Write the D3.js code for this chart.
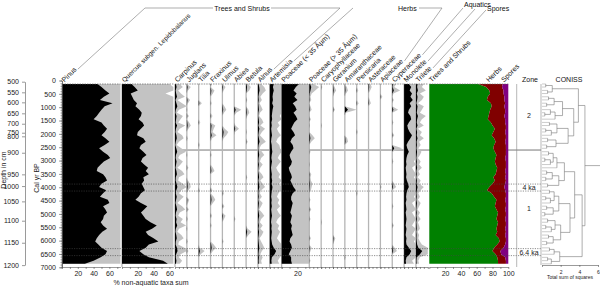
<!doctype html>
<html>
<head>
<script src="https://d3js.org/d3.v7.min.js"></script>
<style>
  body { margin: 0; background: #fff; }
  svg { font-family: "Liberation Sans", Arial, sans-serif; }
</style>
</head>
<body>
<script>
// sample ages (cal yr BP)
let ages = [130, 245, 372, 488, 610, 728, 851, 968, 1092, 1207,
  1333, 1449, 1571, 1688, 1812, 1929, 2052, 2168, 2291, 2418,
  2541, 2668, 2791, 2908, 3032, 3149, 3271, 3388, 3512, 3628,
  3751, 3872, 3990, 4112, 4229, 4352, 4468, 4591, 4709, 4832,
  4948, 5071, 5188, 5312, 5429, 5551, 5668, 5792, 5909, 6032,
  6148, 6271, 6389, 6512, 6628, 6751, 6870];

// depth axis (age-depth model)
let depthTicks = [500, 550, 600, 650, 700, 750, 800, 900, 950, 1000, 1050, 1100, 1150, 1200];
let depthAges = [45, 443, 818, 1230, 1620, 1957, 2092, 2707, 3517, 3956, 4530, 5254, 6080, 6918];

// percentages
let pinus = [45, 50, 55, 60, 53, 48, 64, 54, 50, 47,
  44, 40, 50, 53, 57, 54, 50, 55, 60, 54,
  47, 52, 58, 61, 53, 49, 45, 44, 52, 55,
  57, 50, 47, 56, 52, 48, 58, 60, 52, 55,
  57, 53, 52, 49, 52, 57, 51, 47, 44, 42,
  46, 50, 57, 55, 49, 40, 29];
let quercus = [12, 16, 20, 11, 13, 15, 19, 17, 22, 25,
  24, 21, 26, 28, 24, 20, 19, 27, 30, 24,
  22, 27, 31, 26, 24, 28, 33, 30, 34, 27,
  28, 25, 27, 29, 24, 21, 17, 24, 32, 28,
  24, 27, 30, 36, 44, 38, 30, 33, 40, 46,
  34, 30, 22, 27, 34, 52, 58];
let carpinus = [1.2, 2, 0.8, 1.5, 2.5, 0.6, 1.8, 3, 1, 0.5,
  2, 1.4, 0.8, 2.6, 1.2, 0.6, 1.8, 2.2, 1, 0.4,
  1.6, 2.8, 1.2, 0.8, 2, 1.4, 0.6, 1.8, 2.4, 1,
  0.8, 2, 3, 1.6, 1, 2.2, 1.4, 0.6, 1.8, 2.6,
  1.2, 0.8, 2, 1.4, 2.8, 1, 0.6, 1.6, 2.2, 1,
  0.8, 2.4, 3.2, 1.4, 1, 1.8, 1.2];
let juglans = [0, 1, 0.3, 0, 0, 0.8, 0.3, 0, 0.2, 0,
  0.5, 0, 0.6, 1, 0.4, 0, 0, 0.3, 0, 0,
  0, 0, 0.2, 0, 0, 0, 0.4, 0, 0, 0,
  0.3, 0.8, 1, 0.4, 0, 0, 0.6, 0.3, 0, 0.5,
  0, 0, 0.3, 0, 0, 0.2, 0, 0, 0, 0.3,
  0, 0, 0.4, 0, 0, 0, 0];
let tilia = [0, 0, 0, 0, 0, 0, 0.8, 0, 0, 0,
  0, 0, 0.4, 0, 0, 0, 0, 0, 0, 0.3,
  0, 0, 0, 0, 0, 0, 0, 0, 0, 0,
  0, 0, 0, 0.3, 0, 0, 0, 0, 0, 0,
  0, 0, 0, 0, 0, 0, 0, 0, 0, 0,
  0, 0.3, 1.5, 0.5, 0, 0, 0];
let fraxinus = [0.4, 0, 1, 0.6, 0, 0, 0.3, 0, 0, 0,
  0.5, 0, 0, 1.2, 0.8, 0.5, 1.5, 0.4, 0, 0,
  0, 0, 0.3, 0, 0, 0, 0.6, 1, 0, 0,
  0, 0, 0, 0.5, 0, 0.8, 1.2, 0.6, 0, 0,
  0, 0.4, 0, 0, 0.3, 0, 0, 0, 0, 0,
  0.8, 1.4, 0.6, 0, 0, 0, 0];
let ulmus = [0, 0.8, 0.3, 0, 0, 0, 0, 0.5, 1, 0.4,
  0, 0, 0, 0, 0.6, 1.5, 1, 0.3, 0, 0,
  0, 0, 0, 0, 0, 0, 0, 0, 0, 0,
  0, 0, 0, 0, 0.4, 0, 0, 0, 0.5, 0,
  0, 0.8, 0.4, 0, 0, 0, 0, 0, 0, 0.3,
  0, 0, 0, 0, 0, 0, 0];
let abies = [0, 0, 0, 0, 0, 0, 0, 0, 1.8, 0.5,
  0, 0, 0, 0.3, 1.2, 0.2, 0, 0, 0, 0,
  0, 0, 0, 0, 0, 0, 0, 0, 0, 0,
  0, 0, 0, 0, 0, 0, 0, 0, 0, 0,
  0, 0, 0.3, 0, 0, 0, 0, 0, 0, 0,
  0, 0, 0, 0, 0, 0, 0];
let betula = [0.5, 1.2, 0.8, 0, 0, 0.3, 0, 0, 0.6, 0.8,
  0.3, 0, 0, 0, 0, 0.2, 0, 0, 0.4, 0,
  0, 0, 0, 0, 0, 0, 0, 0, 0, 0.3,
  0, 0, 0, 0, 0, 0, 0, 0, 0, 0,
  0, 0, 0, 0, 0, 0.4, 1.4, 0.6, 0, 0,
  0, 0, 0, 0, 0, 0, 0];
let alnus = [0.8, 1.6, 2, 1.2, 0.6, 1, 0.4, 0.8, 1.2, 0.5,
  0.3, 1, 1.4, 0.6, 1.8, 1, 0.5, 1.2, 2, 0.8,
  0.4, 1, 1.6, 0.8, 0.5, 1.2, 0.6, 0.3, 1, 1.4,
  0.6, 1.2, 1.8, 0.8, 0.5, 1, 0.4, 1.2, 0.8, 0.3,
  1, 1.6, 0.8, 0.5, 1.2, 0.6, 1.4, 1, 0.4, 0.8,
  1.2, 1.6, 1, 0.6, 1.2, 0.8, 1];
let artemisia = [5, 4, 5, 4, 3.5, 4, 3, 4.5, 3.5, 3,
  2.5, 3, 2, 2.5, 1.8, 2.2, 2.8, 2, 1.6, 2.4,
  2.6, 3.2, 2.4, 2, 2.8, 2.2, 1.6, 2, 2.6, 2.2,
  3, 2.4, 3.4, 2.8, 2.2, 1.8, 2.4, 2, 2.6, 1.8,
  2.2, 2.8, 2, 1.6, 2.4, 2, 2.6, 2.2, 1.8, 2.4,
  3, 5, 8, 6, 2.6, 2, 2.4];
let poaceaeSmall = [22, 18, 15, 19, 16, 20, 14, 17, 19, 15,
  18, 20, 16, 14, 12, 15, 17, 13, 11, 14,
  15, 12, 10, 11, 13, 12, 9, 10, 12, 13,
  11, 13, 15, 18, 14, 12, 12, 14, 13, 12,
  11, 13, 12, 11, 13, 12, 13, 14, 11, 10,
  12, 13, 11, 9, 12, 12, 13];
let poaceaeLarge = [1, 2.5, 1.5, 0.6, 0.3, 0.5, 0, 0.3, 0.6, 0,
  0, 0.4, 0, 0.2, 0, 0, 0.8, 1.4, 0.5, 0,
  0, 0.3, 0, 0, 0, 0.2, 0, 0, 0.5, 0.3,
  0.4, 0.8, 0.6, 0.4, 0, 0, 0.3, 0, 0, 0.5,
  0, 0, 0.3, 0, 0, 0, 0, 0, 0.4, 0,
  0, 0.6, 0.3, 0, 0, 0.3, 0];
let caryophyllaceae = [0, 0.3, 0, 0, 0, 0, 0, 0, 0, 0,
  0, 0, 0, 0.2, 0, 0, 0, 0, 0, 0,
  0, 0, 0, 0, 0, 0, 0, 0, 0, 0,
  0, 0, 0, 0, 0, 0, 0, 0, 0, 0,
  0, 0, 0, 0.2, 0, 0, 0, 0, 0, 0,
  0, 0, 0, 0, 0, 0, 0];
let geranium = [0, 0.4, 0.8, 0.3, 0, 0, 0, 0, 0.5, 0,
  0, 0, 0, 0, 0, 0, 0, 0, 0, 0,
  0, 0, 0, 0, 0, 0, 0, 0, 0, 0,
  0, 0, 0, 0, 0, 0, 0, 0, 0, 0,
  0, 0, 0, 0, 0, 0, 0, 0, 0.6, 0.3,
  0, 0, 0, 0, 0, 0, 0];
let amaranthaceae = [0, 0.5, 0.8, 0.3, 0, 0, 0, 0, 4, 0.3,
  0, 0, 0, 0, 0, 0, 0, 0.6, 0.8, 0,
  0, 0, 0, 0, 0, 0, 0, 0, 0, 0,
  0, 0, 0, 0, 0, 0, 0, 0, 0, 0,
  0, 0, 0, 0, 0, 0, 0, 0, 0, 0,
  0, 0, 0, 0, 0.3, 0, 0];
let persicaria = [0, 0, 0.4, 0, 0, 0, 0.5, 0, 0, 0,
  0, 0, 0, 0, 0, 0.3, 0, 0, 0, 0,
  0, 0, 0, 0, 0, 0, 0, 0, 0, 0,
  0, 0, 0, 0, 0.3, 0, 0, 0, 0, 0,
  0, 0, 0, 0, 0, 0, 0, 0, 0, 0,
  0, 0, 0, 0, 0, 0, 0];
let asteraceae = [0.5, 0.8, 0.4, 0, 0, 0.3, 0.6, 0, 0, 0,
  0, 0, 0, 0, 0, 0, 0, 0, 0, 0,
  0, 0, 0, 0, 0, 0, 0, 0, 0, 0,
  0, 0, 0, 0, 0, 0, 0, 0, 0, 0,
  0, 0, 0, 0, 0, 0, 0, 0, 0, 0,
  0, 0, 0, 0, 0, 0, 0];
let apiaceae = [0, 0, 0, 0, 0.5, 0, 0, 0, 0, 0,
  0, 0, 0, 0, 0, 0, 0, 0, 0, 0,
  0, 0, 0, 0, 0, 0, 0, 0, 0, 0,
  0, 0, 0.3, 0, 0, 0, 0, 0, 0, 0,
  0, 0, 0, 0, 0, 0, 0, 0, 0, 0,
  0, 0, 0, 0, 0, 0, 0];
let cyperaceae = [1, 0.5, 2, 0.3, 0, 0.4, 0, 0, 1.5, 0,
  0, 0, 0.3, 0, 0, 0, 0.5, 0, 0, 0,
  2.5, 0, 0, 0, 0.3, 0, 0, 0, 0, 0,
  0, 0.5, 1, 0, 0, 0, 0, 0, 0.3, 0,
  0, 0, 0, 0, 0.4, 0, 0, 0, 0, 0,
  0, 0.6, 1.2, 0, 0, 0, 0];
let monolete = [6, 9, 7, 10, 8, 11, 7, 9, 6, 5,
  8, 9, 6, 4, 5, 7, 10, 8, 5, 3,
  4, 6, 4, 3, 2.5, 3, 2, 2.5, 3, 2.5,
  3.5, 5, 6, 4, 3, 2.5, 3, 2, 2.5, 3,
  2, 2.5, 3, 2.5, 2, 3, 2.5, 2, 3, 2.5,
  3, 6, 9, 7, 3, 2, 2.5];
let trilete = [2, 1.5, 2.5, 1, 2, 1.5, 0.5, 2, 1.5, 1,
  2.5, 1.5, 1, 2, 0.5, 1.5, 1, 2, 0.8, 1.2,
  0.6, 1.4, 1, 0.5, 1.2, 0.8, 1.5, 0.6, 1, 0.4,
  1.2, 0.8, 2, 1.2, 0.6, 1, 0.5, 1.2, 0.8, 0.4,
  1, 0.6, 1.2, 0.5, 0.8, 1, 0.4, 0.8, 0.6, 1,
  1.5, 3, 8, 5, 1, 0.6, 0.8];

// summary groups
let treesShrubs = [62, 72, 76, 77, 74, 73, 78, 79, 77, 76,
  75, 74, 78, 80, 83, 81, 79, 82, 84, 82,
  81, 83, 85, 84, 83, 84, 86, 85, 84, 81,
  83, 80, 76, 73, 79, 82, 85, 84, 83, 85,
  87, 86, 85, 87, 86, 85, 86, 84, 88, 89,
  86, 82, 80, 84, 86, 87, 87];
let herbs = [31, 20, 18, 17, 21, 22, 18, 16, 19, 20,
  20, 22, 18, 17, 14, 15, 18, 15, 12, 15,
  16, 14, 12, 12, 14, 13, 11, 11, 13, 15,
  14, 16, 19, 23, 18, 15, 11, 13, 14, 11,
  10, 11, 11, 10, 11, 11, 11, 12, 9, 8,
  10, 12, 10, 7, 10, 10, 10];
let spores = [7, 8, 6, 6, 5, 5, 4, 5, 4, 4,
  5, 4, 4, 3, 3, 4, 3, 3, 4, 3,
  3, 3, 3, 4, 3, 3, 3, 4, 3, 4,
  3, 4, 5, 4, 3, 3, 4, 3, 3, 4,
  3, 3, 4, 3, 3, 4, 3, 4, 3, 3,
  4, 6, 10, 9, 4, 3, 3];

// CONISS: dissimilarity at which neighbouring samples join
let conissGaps = [0.4, 1.1, 0.6, 3.9, 0.7, 1.3, 0.5, 2.2, 0.9, 0.3,
  1.4, 3.4, 0.8, 1.6, 0.4, 1.0, 2.8, 0.6, 1.5, 0.5,
  4.6, 0.7, 1.2, 0.3, 0.9, 1.6, 2.4, 0.5, 1.1, 0.4,
  1.8, 0.6, 3.5, 0.8, 1.3, 0.4, 0.9, 1.8, 0.5, 1.2,
  0.3, 3.0, 0.6, 1.4, 0.4, 1.0, 2.0, 0.7, 1.2, 0.5,
  4.3, 0.8, 1.3, 1.9, 0.6, 1.0];

let zoneBoundary = 2606;
let eventLines = [3881, 4143, 6300, 6562];
let zoneLabels = [["2", 1320], ["4 ka", 4010], ["1", 4800], ["6.4 ka", 6430]];

let taxa = ["Pinus", "Quercus subgen. Lepidobalanus", "Carpinus", "Juglans", "Tilia", "Fraxinus",
  "Ulmus", "Abies", "Betula", "Alnus", "Artemisia", "Poaceae (< 35 µm)", "Poaceae (> 35 µm)",
  "Caryophyllaceae", "Geranium", "Amaranthaceae", "Persicaria", "Asteraceae", "Apiaceae",
  "Cyperaceae", "Monolete", "Trilete"];
let series = [pinus, quercus, carpinus, juglans, tilia, fraxinus, ulmus, abies, betula, alnus,
  artemisia, poaceaeSmall, poaceaeLarge, caryophyllaceae, geranium, amaranthaceae, persicaria,
  asteraceae, apiaceae, cyperaceae, monolete, trilete];
let maxPct = [74, 65, 15, 15, 15, 15, 15, 15, 15, 15, 15, 35, 15, 15, 15, 15, 15, 15, 15, 15, 15, 15];

// ---- layout ----
let W = 600, H = 286;
let pxPerPct = 0.79;
let exag = 5;
let topY = 84, axisY = 267;
let fmt = d3.format("d");
let svg = d3.select("body").append("svg").attr("width", W).attr("height", H);
let y = d3.scaleLinear().domain([0, 7000]).range([80.5, 267.3]);

let lefts = [62, 122];
let cx = 175;
for (let i = 2; i < taxa.length; i++) { lefts.push(cx); cx += maxPct[i] * pxPerPct; }
let sumLeft = 429.3;

let under = svg.append("g");
let panelsG = svg.append("g");
let over = svg.append("g");

// zone boundary line (behind data)
under.append("line")
  .attr("x1", 175).attr("x2", 541).attr("y1", y(zoneBoundary)).attr("y2", y(zoneBoundary))
  .attr("stroke", "#555").attr("stroke-width", 0.8);

function styleAxis(ax, fs) {
  ax.select(".domain").attr("stroke", "#555").attr("stroke-width", 0.6);
  ax.selectAll(".tick line").attr("stroke", "#555").attr("stroke-width", 0.6);
  ax.selectAll("text").attr("font-size", fs).attr("fill", "#222")
    .attr("font-family", "Liberation Sans, Arial, sans-serif");
}

function drawPanel(i) {
  let x = d3.scaleLinear().domain([0, maxPct[i]]).range([lefts[i], lefts[i] + maxPct[i] * pxPerPct]);
  let pts = ages.map((a, j) => ({ a: a, v: series[i][j] }));
  let g = panelsG.append("g");
  g.append("path").datum(pts)
    .attr("fill", "#c3c3c3")
    .attr("d", d3.area().y(d => y(d.a)).x0(x(0)).x1(d => x(Math.min(d.v * exag, maxPct[i]))));
  g.append("line").attr("x1", x(0)).attr("x2", x(0)).attr("y1", topY).attr("y2", axisY)
    .attr("stroke", "#b5b5b5").attr("stroke-width", 1.3);
  g.append("path").datum(pts)
    .attr("fill", "#000")
    .attr("d", d3.area().y(d => y(d.a)).x0(x(0)).x1(d => x(Math.min(d.v, maxPct[i]))));

  // bottom axis
  let labelled = { 0: [20, 40, 60], 1: [20, 40, 60], 11: [20] }[i];
  let step = maxPct[i] > 20 ? 10 : 5;
  let tv = d3.range(0, maxPct[i] + 0.01, step);
  let ax = g.append("g").attr("transform", `translate(0,${axisY})`)
    .call(d3.axisBottom(x).tickValues(tv).tickSize(2).tickSizeOuter(0).tickPadding(2)
      .tickFormat(d => labelled && labelled.includes(d) ? d : ""));
  styleAxis(ax, 7);

  // top line
  g.append("line").attr("x1", x(0)).attr("x2", x(maxPct[i])).attr("y1", topY).attr("y2", topY)
    .attr("stroke", "#666").attr("stroke-width", 0.7).attr("stroke-dasharray", "1.5,1");

  // rotated name
  let t = svg.append("text")
    .attr("transform", `translate(${x(0) + 2.5},82.5) rotate(-45)`)
    .attr("font-size", i == 1 ? 6.5 : 7).attr("fill", "#111").text(taxa[i]);
  let L = t.node().getComputedTextLength();
  return [x(0) + 2.5 + L * 0.7071, 82.5 - L * 0.7071];
}

let ends = taxa.map((t, i) => drawPanel(i));

// ---- summary (Trees and Shrubs / Herbs / Spores) ----
let xs = d3.scaleLinear().domain([0, 100]).range([sumLeft, sumLeft + 100 * pxPerPct]);
let stackRows = ages.map((a, j) => ({ a: a, t: treesShrubs[j], h: herbs[j], s: spores[j] }));
let bands = [
  ["#008000", d => 0, d => d.t],
  ["#800000", d => d.t, d => d.t + d.h],
  ["#800080", d => d.t + d.h, d => d.t + d.h + d.s]
];
bands.forEach(b => {
  panelsG.append("path").datum(stackRows).attr("fill", b[0])
    .attr("d", d3.area().y(d => y(d.a)).x0(d => xs(b[1](d))).x1(d => xs(b[2](d))));
});
let sax = panelsG.append("g").attr("transform", `translate(0,${axisY})`)
  .call(d3.axisBottom(xs).tickValues(d3.range(0, 101, 10)).tickSize(2).tickSizeOuter(0).tickPadding(2)
    .tickFormat(d => d > 0 && d % 20 == 0 ? d : ""));
styleAxis(sax, 7);
panelsG.append("line").attr("x1", xs(0)).attr("x2", xs(100)).attr("y1", topY).attr("y2", topY)
  .attr("stroke", "#666").attr("stroke-width", 0.7).attr("stroke-dasharray", "1.5,1");
[["Trees and Shrubs", sumLeft + 2.5], ["Herbs", 489], ["Spores", 504]].forEach(s => {
  svg.append("text").attr("transform", `translate(${s[1]},82.5) rotate(-45)`)
    .attr("font-size", 7).attr("fill", "#111").text(s[0]);
});

// ---- group headers ----
function line(x1, y1, x2, y2) {
  svg.append("line").attr("x1", x1).attr("y1", y1).attr("x2", x2).attr("y2", y2)
    .attr("stroke", "#777").attr("stroke-width", 0.6);
}
function label(txt, x, yy, anchor) {
  svg.append("text").attr("x", x).attr("y", yy).attr("font-size", 7).attr("fill", "#111")
    .attr("text-anchor", anchor || "start").text(txt);
}
let hy = 8;
line(ends[0][0] + 1, ends[0][1] - 1, 145, hy);
line(145, hy, 213, hy);
label("Trees and Shrubs", 242, hy + 2.5, "middle");
line(271, hy, 340, hy);
line(340, hy, ends[9][0] + 1, ends[9][1] - 1);
line(ends[10][0] + 1, ends[10][1] - 1, 353, hy);
label("Herbs", 398, hy + 2.5);
line(419, hy, 442, hy);
line(442, hy, ends[18][0] + 1, ends[18][1] - 1);
line(ends[19][0] + 1, ends[19][1] - 1, 463, hy);
label("Aquatics", 464, hy - 1);
line(ends[20][0] + 1, ends[20][1] - 1, 475, hy + 1);
line(ends[21][0] + 1, ends[21][1] - 1, 486, hy + 2);
label("Spores", 487, hy + 3);

// ---- event lines (dotted) ----
eventLines.forEach(a => {
  over.append("line").attr("x1", 62).attr("x2", 541).attr("y1", y(a)).attr("y2", y(a))
    .attr("stroke", "#444").attr("stroke-width", 0.6).attr("stroke-dasharray", "1.2,1.2");
});

// ---- age axis ----
let ageAx = svg.append("g").attr("transform", "translate(62,0)")
  .call(d3.axisLeft(y).tickValues(d3.range(0, 7001, 500)).tickSize(3).tickSizeOuter(0).tickFormat(fmt));
styleAxis(ageAx, 7);
let ageMinor = svg.append("g").attr("transform", "translate(62,0)")
  .call(d3.axisLeft(y).tickValues(d3.range(0, 7001, 100)).tickSize(1.5).tickFormat(""));
ageMinor.selectAll("line, path").attr("stroke", "#555").attr("stroke-width", 0.5);

// ---- depth axis ----
let depth = d3.scaleLinear().domain(depthTicks).range(depthAges.map(a => y(a)));
let dAx = svg.append("g").attr("transform", "translate(25,0)")
  .call(d3.axisLeft(depth).tickValues(depthTicks).tickSize(3).tickSizeOuter(0).tickPadding(3).tickFormat(fmt));
styleAxis(dAx, 7);

svg.append("text").attr("transform", "translate(6,170) rotate(-90)").attr("text-anchor", "middle")
  .attr("font-size", 7).attr("fill", "#222").text("Depth in cm");
svg.append("text").attr("transform", "translate(39,178) rotate(-90)").attr("text-anchor", "middle")
  .attr("font-size", 7).attr("fill", "#222").text("Cal yr BP");
svg.append("text").attr("x", 151).attr("y", 284.5).attr("text-anchor", "middle")
  .attr("font-size", 7).attr("fill", "#222").text("% non-aquatic taxa sum");

// ---- zones ----
svg.append("line").attr("x1", 516.7).attr("x2", 516.7).attr("y1", topY).attr("y2", axisY)
  .attr("stroke", "#888").attr("stroke-width", 0.6);
label("Zone", 530, 82, "middle");
zoneLabels.forEach(z => {
  svg.append("text").attr("x", 529).attr("y", y(z[1])).attr("dy", "0.35em")
    .attr("text-anchor", "middle").attr("font-size", 7).attr("fill", "#222").text(z[0]);
});

// ---- CONISS ----
let xc = d3.scaleLinear().domain([0, 6]).range([542, 598]);
let cg = svg.append("g");
function clust(a, b) {
  if (a == b) return { y: y(ages[a]), h: 0 };
  let k = a;
  for (let i = a; i < b; i++) if (conissGaps[i] > conissGaps[k]) k = i;
  let l = clust(a, k), r = clust(k + 1, b);
  let h = conissGaps[k];
  [l, r].forEach(c => {
    cg.append("line").attr("x1", xc(c.h)).attr("x2", xc(h)).attr("y1", c.y).attr("y2", c.y)
      .attr("stroke", c.h == 0 ? "#aaa" : "#777").attr("stroke-width", 0.6);
  });
  cg.append("line").attr("x1", xc(h)).attr("x2", xc(h)).attr("y1", l.y).attr("y2", r.y)
    .attr("stroke", "#777").attr("stroke-width", 0.6);
  return { y: (l.y + r.y) / 2, h: h };
}
let root = clust(0, ages.length - 1);
cg.append("line").attr("x1", xc(root.h)).attr("x2", 600).attr("y1", root.y).attr("y2", root.y)
  .attr("stroke", "#777").attr("stroke-width", 0.6);
cg.append("line").attr("x1", 541).attr("x2", 541).attr("y1", topY).attr("y2", axisY - 2)
  .attr("stroke", "#888").attr("stroke-width", 0.6);
let cax = svg.append("g").attr("transform", `translate(0,${axisY - 2})`)
  .call(d3.axisBottom(xc).tickValues([0, 2, 4, 6]).tickSize(2).tickSizeOuter(0)
    .tickFormat(d => d == 0 ? "" : d));
styleAxis(cax, 5);
label("CONISS", 569, 82, "middle");
svg.append("text").attr("x", 570).attr("y", 279).attr("text-anchor", "middle")
  .attr("font-size", 5).attr("fill", "#222").text("Total sum of squares");
</script>
</body>
</html>
